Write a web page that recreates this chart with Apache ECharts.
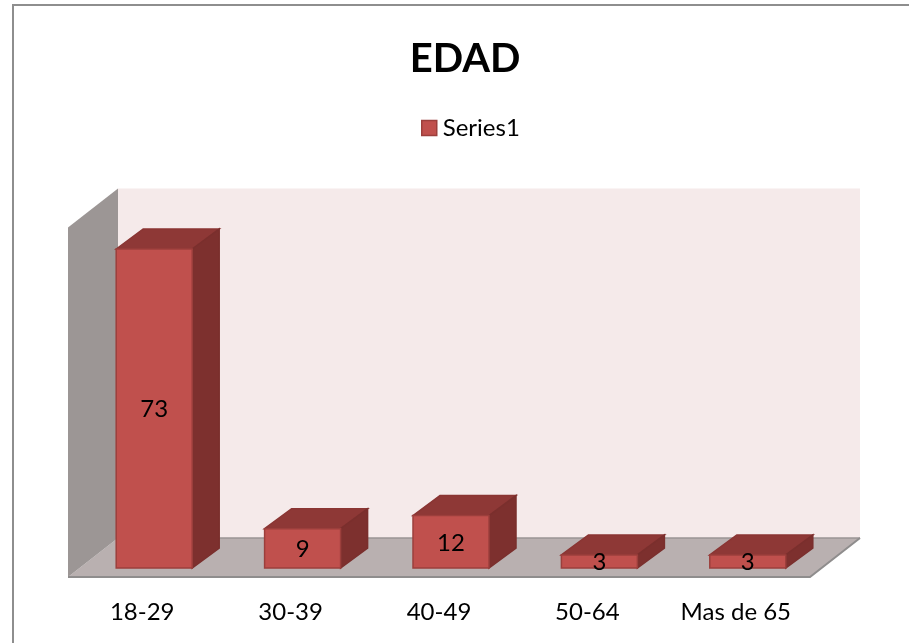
<!DOCTYPE html>
<html><head><meta charset="utf-8">
<style>html,body{margin:0;padding:0;background:#fff}#c{width:909px;height:643px}</style>
<script src="https://cdn.jsdelivr.net/npm/echarts@6/dist/echarts.min.js"></script>
</head><body><div id="c"></div>
<script>
const categories = ['18-29','30-39','40-49','50-64','Mas de 65'];
const values = [73,9,12,3,3];
const seriesName = 'Series1';
const titleText = 'EDAD';

const DX = 27, DY = 20, WX = 50, WY = 39, BAND = 76;
const font = 'Lato, Carlito, "Open Sans", sans-serif';
const poly = (points, fill, stroke, z2) => ({
  type:'polygon', z2:z2||0, shape:{points},
  style:{fill, stroke:stroke||null, lineWidth:stroke?1.5:0}
});
const chart = echarts.init(document.getElementById('c'), null, {renderer:'canvas'});
chart.setOption({
  animation:false,
  backgroundColor:'#fff',
  title:{text:titleText,left:460,top:34,textAlign:'center',
    textStyle:{fontFamily:font,fontSize:40,fontWeight:'bold',color:'#000'}},
  legend:{data:[seriesName],left:416,top:111,itemWidth:15,itemHeight:15,itemGap:6,icon:'rect',
    textStyle:{fontFamily:font,fontSize:24,color:'#000',padding:[0,0,0,1]},
    itemStyle:{color:'#C0504D',borderColor:'#9c3f3c',borderWidth:1.5}},
  grid:{left:80,width:742,top:218.4,height:349.6,containLabel:false},
  xAxis:{type:'category',data:categories,axisLine:{show:false},axisTick:{show:false},
    axisLabel:{fontFamily:font,fontSize:24,color:'#000',margin:32,padding:[0,24,0,0]}},
  yAxis:{type:'value',min:0,max:80,interval:20,show:false,splitLine:{show:false}},
  graphic:[
    {type:'polyline',shape:{points:[[13,643],[13,5],[909,5]]},style:{fill:null,stroke:'#8e8e8e',lineWidth:2},silent:true}
  ],
  series:[
    {type:'custom',name:'walls',coordinateSystem:'cartesian2d',data:[[0,0]],silent:true,z:1,
     encode:{x:0,y:1},
     renderItem(params,api){
       const g=params.coordSys;
       const bottom=g.y+g.height, top=g.y, l=g.x, r=g.x+g.width;
       const fx0=l-12, fy=bottom+9, bx0=fx0+WX, bx1=r+38, by=fy-WY, ty=top-30;
       const fx1=bx1-WX;
       return {type:'group',children:[
         poly([[bx0,ty],[bx1,ty],[bx1,by],[bx0,by]],'#F5EAEA'),
         poly([[fx0,fy],[bx0,by],[bx1,by],[fx1,fy]],'#B9B0B0'),
         poly([[fx0,ty+39],[bx0,ty],[bx0,by],[fx0,fy]],'#9C9695'),
         {type:'line',shape:{x1:bx0,y1:by,x2:bx1,y2:by},style:{stroke:'#9a9494',lineWidth:1.5}},
         {type:'polyline',shape:{points:[[fx0,fy],[fx1,fy],[bx1,by]]},style:{fill:null,stroke:'#8f8d8d',lineWidth:2}}
       ]};
     }},
    {type:'custom',name:seriesName,coordinateSystem:'cartesian2d',z:2,
     itemStyle:{color:'#C0504D'},
     data:values.map((v,i)=>[i,v]),encode:{x:0,y:1},
     renderItem(params,api){
       const p=api.coord([api.value(0),api.value(1)]);
       const b=api.coord([api.value(0),0]);
       const x0=p[0]-BAND/2, x1=p[0]+BAND/2, t=p[1], bt=b[1];
       return {type:'group',children:[
         poly([[x0,t],[x0+DX,t-DY],[x1+DX,t-DY],[x1,t]],'#8E3836','#8a3533'),
         poly([[x1,t],[x1+DX,t-DY],[x1+DX,bt-DY],[x1,bt]],'#7D302E','#7a2f2d'),
         poly([[x0,t],[x1,t],[x1,bt],[x0,bt]],'#C0504D','#9c3f3c'),
         {type:'text',z2:5,style:{text:String(api.value(1)),x:p[0],y:(t+bt)/2+1,align:'center',verticalAlign:'middle',
           fontFamily:font,fontSize:24,fill:'#000'}}
       ]};
     }}
  ]
});
</script></body></html>
